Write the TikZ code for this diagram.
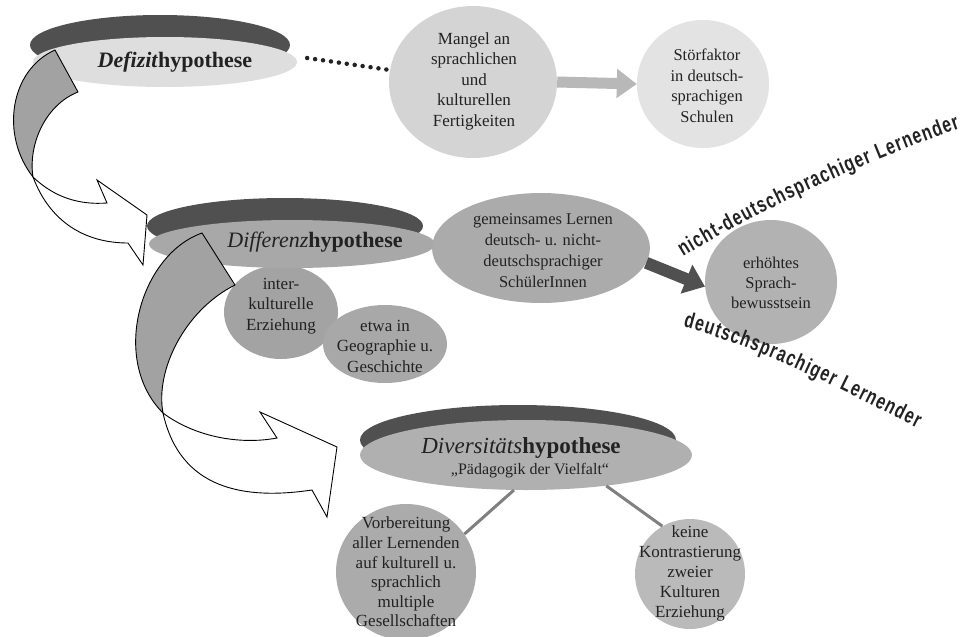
\documentclass[tikz,border=0pt]{standalone}
\usepackage{fontspec}
\setmainfont{Liberation Serif}
\newfontfamily\lernfont[FakeStretch=0.72]{Liberation Sans}
\usetikzlibrary{shapes.geometric,arrows.meta,decorations.text}
\definecolor{rim}{HTML}{505050}
\definecolor{curl}{HTML}{A2A2A2}
\definecolor{ink}{HTML}{222222}
\newcommand\lernstyle{\lernfont\bfseries\fontsize{22}{23}\selectfont}
\begin{document}
\begin{tikzpicture}[x=1pt,y=-1pt,
  blob/.style={ellipse,inner sep=0pt,draw=none},
  txt/.style={align=center,inner sep=0pt,text=ink,font=\fontsize{17}{20.5}\selectfont},
  headtxt/.style={inner sep=0pt,text=ink,font=\fontsize{22}{24}\selectfont\bfseries},
  subtxt/.style={inner sep=0pt,text=ink,font=\fontsize{16}{18}\selectfont},
  curlgrey/.style={fill=curl,draw=black,line width=0.9pt,line join=round},
  curlwhite/.style={fill=white,draw=black,line width=0.9pt,line join=miter},
  dotline/.style={draw=ink,line width=4.5pt,line cap=round,dash pattern=on 0pt off 8pt},
  greyarrow/.style={draw=black!28,line width=11pt,-{Triangle[length=20pt,width=28pt]}},
  darkarrow/.style={draw=rim,line width=12pt,-{Triangle[length=20pt,width=30pt]}},
  linkline/.style={draw=black!50,line width=3pt},
  lerntext/.style={decorate,decoration={text along path,text align=fit to path,text color=ink}}
]
\useasboundingbox (0,0) rectangle (969,637);
\fill[white] (0,0) rectangle (969,637);

% ---------- Defizit disc ----------
\node[blob,fill=rim,minimum width=260pt,minimum height=60pt] (defdark) at (160,45) {};
\node[blob,fill=black!13,minimum width=264pt,minimum height=50pt] (def) at (165,62) {};
\node[headtxt] (deftxt) at (175,62) {\textit{Defizit}hypothese};

% ---------- Mangel / Stoerfaktor ----------
\node[blob,fill=black!17,minimum width=168pt,minimum height=152pt] (mangel) at (473,82) {};
\node[txt] (mangeltxt) at (474,81) {Mangel an\\sprachlichen\\und\\kulturellen\\Fertigkeiten};
\node[blob,fill=black!11,minimum width=132pt,minimum height=128pt] (stor) at (703,84) {};
\node[txt,font=\fontsize{16.5}{20.5}\selectfont] (stortxt) at (707,86) {Störfaktor\\in deutsch-\\sprachigen\\Schulen};
\draw[dotline] ([shift={(10,-4)}]def.east) -- ([shift={(1,-12)}]mangel.west);
\draw[greyarrow] (mangel.east) -- (stor.west);

% ---------- Differenz disc ----------
\node[blob,fill=black!36,minimum width=114pt,minimum height=94pt] (inter) at (281,312) {};
\node[blob,fill=rim,minimum width=276pt,minimum height=56pt] (difdark) at (285,226) {};
\node[blob,fill=black!34,minimum width=286pt,minimum height=48pt] (dif) at (292,244) {};
\node[headtxt] (diftxt) at (315,242) {\textit{\mdseries Differenz}hypothese};
\node[txt] (intertxt) at (281,306) {inter-\\kulturelle\\Erziehung};
\node[blob,fill=black!34,minimum width=124pt,minimum height=78pt] (etwa) at (385,344) {};
\node[txt] (etwatxt) at (385,346) {etwa in\\Geographie u.\\Geschichte};

% ---------- gemeinsames Lernen ----------
\node[blob,fill=black!33,minimum width=218pt,minimum height=110pt] (gem) at (541,248) {};
\node[txt,font=\fontsize{16.5}{21}\selectfont] (gemtxt) at (543,251) {gemeinsames Lernen\\deutsch- u. nicht-\\deutschsprachiger\\SchülerInnen};
\node[blob,fill=black!30,minimum width=132pt,minimum height=124pt] (erh) at (771,282) {};
\node[txt,font=\fontsize{16.5}{20}\selectfont] (erhtxt) at (771,283) {erhöhtes\\Sprach-\\bewusstsein};
\draw[darkarrow] (gem.-8) -- (erh.184);

% ---------- curl arrows ----------
\draw[curlgrey] (55,50) .. controls (10,70) and (0,135) .. (33,177)
  .. controls (28,145) and (45,105) .. (78,92) -- cycle;
\draw[curlwhite] (33,177) .. controls (55,198) and (80,205) .. (107,203)
  -- (97,180) -- (147,215) -- (143,265) -- (128,243)
  .. controls (85,243) and (50,222) .. (33,177) -- cycle;
\draw[curlgrey] (202,233) .. controls (140,255) and (110,360) .. (163,413)
  .. controls (155,370) and (185,310) .. (235,285) -- cycle;
\draw[curlwhite] (163,413) .. controls (195,437) and (240,445) .. (277,438)
  -- (260,412) -- (337,447) -- (327,517) -- (312,490)
  .. controls (245,500) and (180,490) .. (163,413) -- cycle;

% ---------- Diversitaet disc ----------
\node[blob,fill=rim,minimum width=316pt,minimum height=70pt] (divdark) at (518,440) {};
\node[blob,fill=black!31,minimum width=332pt,minimum height=70pt] (div) at (526,455) {};
\node[headtxt,font=\fontsize{23}{25}\selectfont\bfseries] (divtxt) at (521,448) {\textit{\mdseries Diversitäts}hypothese};
\node[subtxt] (divsub) at (530,471) {„Pädagogik der Vielfalt“};

\node[blob,fill=black!33,minimum width=140pt,minimum height=136pt] (vorb) at (406,572) {};
\node[blob,fill=black!27,minimum width=110pt,minimum height=110pt] (keine) at (690,574) {};
\draw[linkline] (div.-109) -- (vorb.33);
\draw[linkline] (div.-21) -- (keine.120);
\node[txt,font=\fontsize{17}{19.6}\selectfont] (vorbtxt) at (406,572) {Vorbereitung\\aller Lernenden\\auf kulturell u.\\sprachlich\\multiple\\Gesellschaften};
\node[txt,font=\fontsize{17}{20}\selectfont] (keinetxt) at (690,573) {keine\\Kontrastierung\\zweier\\Kulturen\\Erziehung};

% ---------- curved labels ----------
\path[lerntext,decoration={text={|\lernstyle|nicht-deutschsprachiger Lernender}}]
  (683,257) .. controls (768,205) and (866,162) .. (960,128);
\path[lerntext,decoration={text={|\lernstyle|deutschsprachiger Lernender}}]
  (683,327) .. controls (765,349) and (841,390) .. (917,428);
\end{tikzpicture}
\end{document}
